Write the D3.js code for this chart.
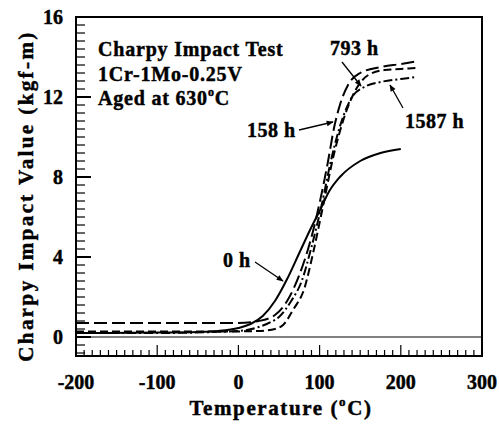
<!DOCTYPE html>
<html>
<head>
<meta charset="utf-8">
<script src="https://cdn.jsdelivr.net/npm/d3@7"></script>
<style>
  body { margin: 0; background: #fff; }
  svg text { font-family: "Liberation Serif", "Times New Roman", serif; font-weight: bold; fill: #000; stroke: #000; stroke-width: 0.45; }
</style>
</head>
<body>
<svg id="chart" width="499" height="429"></svg>
<script>
// Values: [temperature (C), impact value (kgf-m)]
var h0 = [[-200,0.2],[-100,0.22],[-50,0.25],[-25,0.3],[0,0.45],[15,0.65],[30,1.05],[45,1.8],[60,2.9],[75,4.2],[90,5.5],[100,6.3],[112,7.3],[125,8.0],[150,8.8],[175,9.2],[200,9.4]]
var h158 = [[-200,0.7],[-100,0.7],[0,0.7],[25,0.8],[45,1.1],[60,1.8],[75,3.1],[90,5.0],[100,6.7],[110,8.7],[118,10.5],[125,11.6],[135,12.6],[150,13.2],[175,13.5],[200,13.65],[222,13.8]]
var h793 = [[-200,0.28],[-100,0.28],[0,0.28],[25,0.3],[45,0.4],[55,0.6],[68,1.4],[81,2.4],[92,4.2],[104,6.5],[118,9.2],[133,11.3],[145,12.4],[160,13.1],[180,13.35],[200,13.4],[220,13.45]]
var h1587 = [[-200,0.2],[-100,0.2],[0,0.3],[25,0.5],[40,0.75],[50,1.0],[65,1.8],[78,2.8],[90,4.5],[102,6.5],[115,9.0],[128,10.9],[140,12.0],[155,12.5],[175,12.75],[200,12.9],[220,13.0]]

var xTicks = [-200, -100, 0, 100, 200, 300]
var yTicks = [0, 4, 8, 12, 16]

var svg = d3.select('#chart')
var margin = { top: 17, right: 17, bottom: 73, left: 76 }
var width = 499 - margin.left - margin.right
var height = 429 - margin.top - margin.bottom
var g = svg.append('g').attr('transform', 'translate(' + margin.left + ',' + margin.top + ')')

var x = d3.scaleLinear().domain([-200, 300]).range([0, width])
var y = d3.scaleLinear().domain([-0.95, 16]).range([height, 0])

// arrow head marker
svg.append('defs').append('marker')
    .attr('id', 'arr')
    .attr('viewBox', '0 0 10 10')
    .attr('refX', 9).attr('refY', 5)
    .attr('markerWidth', 9).attr('markerHeight', 7)
    .attr('markerUnits', 'userSpaceOnUse')
    .attr('orient', 'auto')
  .append('path').attr('d', 'M0,1 L10,5 L0,9 Z').attr('fill', '#000')

// minor + major ticks pointing inward
var xMinor = d3.range(-200, 301, 10)
g.selectAll('.xt').data(xMinor).enter().append('line')
    .attr('x1', d => x(d)).attr('x2', d => x(d))
    .attr('y1', height).attr('y2', d => height - (d % 100 === 0 ? 11 : 6))
    .attr('stroke', '#000').attr('stroke-width', 1.2)
var yMinor = d3.range(-2, 41).map(i => +(i * 0.4).toFixed(1))
g.selectAll('.yt').data(yMinor).enter().append('line')
    .attr('x1', 0).attr('x2', d => (d % 4 === 0 ? 15 : 9))
    .attr('y1', d => y(d)).attr('y2', d => y(d))
    .attr('stroke', '#000').attr('stroke-width', d => (d % 4 === 0 ? 2 : 1.2))

// zero reference line
g.append('line')
    .attr('x1', 0).attr('x2', width)
    .attr('y1', y(0)).attr('y2', y(0))
    .attr('stroke', '#000').attr('stroke-width', 1)

// frame
g.append('rect').attr('width', width).attr('height', height)
    .attr('fill', 'none').attr('stroke', '#000').attr('stroke-width', 2)

// tick labels
g.selectAll('.xl').data(xTicks).enter().append('text')
    .attr('x', d => x(d)).attr('y', height + 33)
    .attr('text-anchor', 'middle').attr('font-size', 20)
    .text(d => d)
g.selectAll('.yl').data(yTicks).enter().append('text')
    .attr('x', -13).attr('y', d => y(d) + 7)
    .attr('text-anchor', 'end').attr('font-size', 20)
    .text(d => d)

// axis titles
var xt = svg.append('text')
    .attr('x', 281).attr('y', 415)
    .attr('text-anchor', 'middle').attr('font-size', 21)
    .attr('letter-spacing', 1.6)
xt.append('tspan').text('Temperature (')
xt.append('tspan').attr('font-size', 13).attr('dy', -9).text('o')
xt.append('tspan').attr('dy', 9).text('C)')

svg.append('text')
    .attr('transform', 'translate(33,196) rotate(-90)')
    .attr('text-anchor', 'middle').attr('font-size', 21)
    .attr('letter-spacing', 2.4)
    .text('Charpy Impact Value (kgf-m)')

// curves
var line = d3.line().x(d => x(d[0])).y(d => y(d[1])).curve(d3.curveMonotoneX)
var series = [
  { data: h0, dash: null },
  { data: h158, dash: '13,5' },
  { data: h793, dash: '8,4' },
  { data: h1587, dash: '9,3,2,3' }
]
g.selectAll('.curve').data(series).enter().append('path')
    .attr('d', d => line(d.data))
    .attr('fill', 'none').attr('stroke', '#000').attr('stroke-width', 2)
    .attr('stroke-dasharray', d => d.dash)

// annotation block
var notes = svg.append('g').attr('font-size', 20).attr('letter-spacing', 0.8)
notes.append('text').attr('x', 98).attr('y', 56).text('Charpy Impact Test')
notes.append('text').attr('x', 98).attr('y', 81).text('1Cr-1Mo-0.25V')
var aged = notes.append('text').attr('x', 98).attr('y', 105)
aged.append('tspan').text('Aged at 630')
aged.append('tspan').attr('font-size', 12).attr('dy', -9).text('o')
aged.append('tspan').attr('dy', 9).text('C')

// curve labels with arrows
var labels = [
  { text: '158 h', tx: 247, ty: 137, a: [299, 130, 333, 122] },
  { text: '793 h', tx: 330, ty: 55, a: [342, 62, 361, 86] },
  { text: '1587 h', tx: 405, ty: 128, a: [403, 108, 390, 85] },
  { text: '0 h', tx: 223, ty: 267, a: [255, 262, 283, 281] }
]
var lg = svg.append('g')
lg.selectAll('text').data(labels).enter().append('text')
    .attr('x', d => d.tx).attr('y', d => d.ty)
    .attr('font-size', 20).attr('letter-spacing', 0.5)
    .text(d => d.text)
lg.selectAll('line').data(labels).enter().append('line')
    .attr('x1', d => d.a[0]).attr('y1', d => d.a[1])
    .attr('x2', d => d.a[2]).attr('y2', d => d.a[3])
    .attr('stroke', '#000').attr('stroke-width', 1.3)
    .attr('marker-end', 'url(#arr)')
</script>
</body>
</html>
